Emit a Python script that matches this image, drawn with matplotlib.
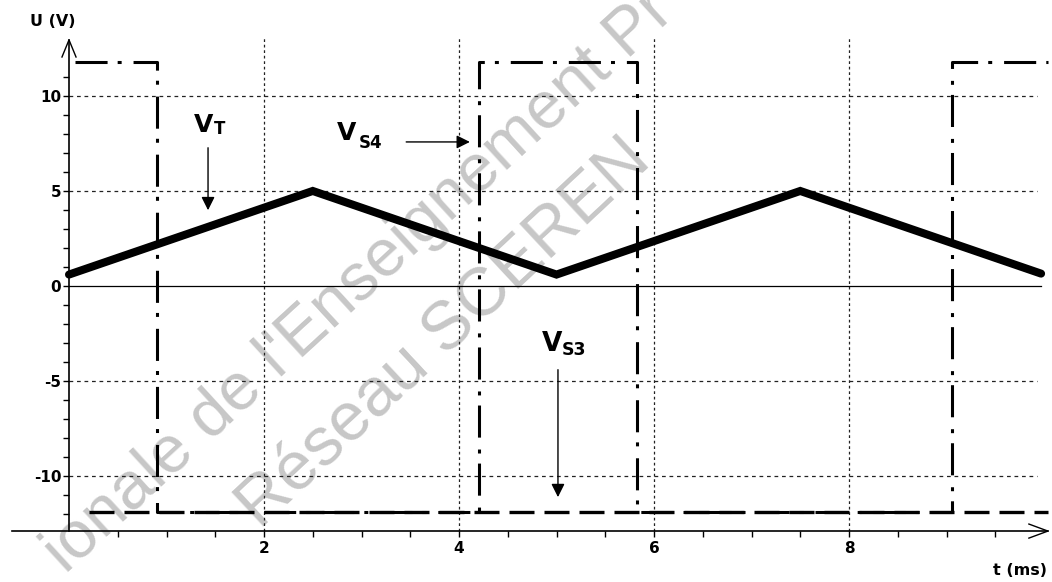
import matplotlib
matplotlib.use("Agg")
import matplotlib.pyplot as plt
import numpy as np

plt.rcParams['font.family'] = ['Liberation Sans', 'DejaVu Sans']

# ---- data ----
vt_t = [0.0, 2.5, 5.0, 7.5, 9.97]          # triangle V_T (ms)
vt_v = [0.6, 5.0, 0.6, 5.0, 0.65]          # (V)

vs4_t = [0.06, 0.90, 0.90, 4.20, 4.20, 5.83, 5.83, 9.06, 9.06, 10.04]
vs4_v = [11.8, 11.8, -11.9, -11.9, 11.8, 11.8, -11.9, -11.9, 11.8, 11.8]

vs3_t = [0.20, 10.04]
vs3_v = [-11.9, -11.9]

x_major = [2, 4, 6, 8]
x_labels = ["2", "4", "6", "8"]
y_major = [10, 5, 0, -5, -10]
y_labels = ["10", "5", "0", "-5", "-10"]
y_grid = [10, 5, -5, -10]

fig = plt.figure(figsize=(10.52, 5.82), dpi=100)
ax = fig.add_axes([0, 0, 1, 1])
ax.set_xlim(-0.7077, 10.082)
ax.set_ylim(-15.58, 15.05)
ax.patch.set_alpha(0)

y_bot = -12.9
y_top = 12.95
x_left = -0.58
x_right = 10.04

# watermark
wm = (0.78, 0.78, 0.78)
ax.text(2.98, 0.2, "ionale de l'Enseignement Pr", rotation=42.5, rotation_mode='anchor',
        ha='center', va='center', fontsize=48, color=wm, zorder=0,
        fontfamily=['Liberation Sans', 'DejaVu Sans'])
ax.text(3.84, -2.5, "Réseau SCEREN", rotation=43, rotation_mode='anchor',
        ha='center', va='center', fontsize=49, color=wm, zorder=0,
        fontfamily=['Liberation Sans', 'DejaVu Sans'])

# spines / axes
for s in ['top', 'right']:
    ax.spines[s].set_visible(False)
ax.spines['left'].set_position(('data', 0))
ax.spines['bottom'].set_position(('data', y_bot))
ax.spines['left'].set_bounds(y_bot, y_top)
ax.spines['bottom'].set_bounds(x_left, x_right)
ax.spines['left'].set_linewidth(1.2)
ax.spines['bottom'].set_linewidth(1.2)

ax.set_xticks(x_major)
ax.set_xticklabels(x_labels)
ax.set_xticks(np.arange(0.5, 9.6, 0.5), minor=True)
ax.set_yticks(y_major)
ax.set_yticklabels(y_labels)
ax.set_yticks(np.arange(-12, 12, 1), minor=True)
ax.tick_params(axis='both', which='both', direction='out', length=4.5, width=1.0, color='black')
ax.tick_params(axis='x', which='major', pad=3, labelsize=11)
ax.tick_params(axis='y', which='major', pad=1, labelsize=11)
for lab in ax.get_xticklabels() + ax.get_yticklabels():
    lab.set_fontweight('bold')
    lab.set_fontfamily('DejaVu Sans')

# arrowheads of axes
ax.plot([-0.072, 0, 0.072], [12.05, y_top, 12.05], color='black', lw=1.0)
ax.plot([x_right - 0.195, x_right, x_right - 0.195], [y_bot + 0.37, y_bot, y_bot - 0.37],
        color='black', lw=1.0)

# grid
for g in y_grid:
    ax.plot([0, 9.93], [g, g], color='#222222', lw=0.9, dashes=(3, 3), zorder=1)
for g in x_major:
    ax.plot([g, g], [y_bot, 13.05], color='#222222', lw=0.9, dashes=(2.2, 2.2), zorder=1)

# zero line
ax.plot([0, 9.97], [0, 0], color='black', lw=0.9, zorder=2)

# series
ax.plot(vs3_t, vs3_v, color='black', lw=2.4, dashes=(7.5, 3), zorder=3)
ax.plot(vs4_t, vs4_v, color='black', lw=2.2, dashes=(10.5, 3.3, 1.3, 3.9), zorder=4)
ax.plot(vt_t, vt_v, color='black', lw=5.8, solid_capstyle='round', solid_joinstyle='miter', zorder=5)

# axis titles
ax.text(-0.40, 13.9, "U (V)", fontsize=11.5, fontweight='bold', ha='left', va='center',
        fontfamily='DejaVu Sans')
ax.text(9.48, -14.95, "t (ms)", fontsize=11.5, fontweight='bold', ha='left', va='center',
        fontfamily='DejaVu Sans')

# series labels (V + subscript) and arrows
def label(x, y, xs, ys, sub, size=18, subsize=12):
    ax.text(x, y, "V", fontsize=size, fontweight='bold', ha='left', va='baseline',
            fontfamily='DejaVu Sans')
    ax.text(xs, ys, sub, fontsize=subsize, fontweight='bold', ha='left', va='baseline',
            fontfamily='DejaVu Sans')

label(1.285, 8.1, 1.49, 8.0, "T")
ax.annotate("", xy=(1.426, 3.84), xytext=(1.426, 7.42),
            arrowprops=dict(arrowstyle='-|>', color='black', lw=1.0, mutation_scale=20))
label(2.752, 7.684, 2.97, 7.263, "S4")
ax.annotate("", xy=(4.14, 7.58), xytext=(3.43, 7.58),
            arrowprops=dict(arrowstyle='-|>', color='black', lw=1.0, mutation_scale=20))
label(4.845, -3.42, 5.055, -3.63, "S3", size=19, subsize=12.5)
ax.annotate("", xy=(5.015, -11.26), xytext=(5.015, -4.26),
            arrowprops=dict(arrowstyle='-|>', color='black', lw=1.0, mutation_scale=20))

fig.savefig("out.png", dpi=100)
